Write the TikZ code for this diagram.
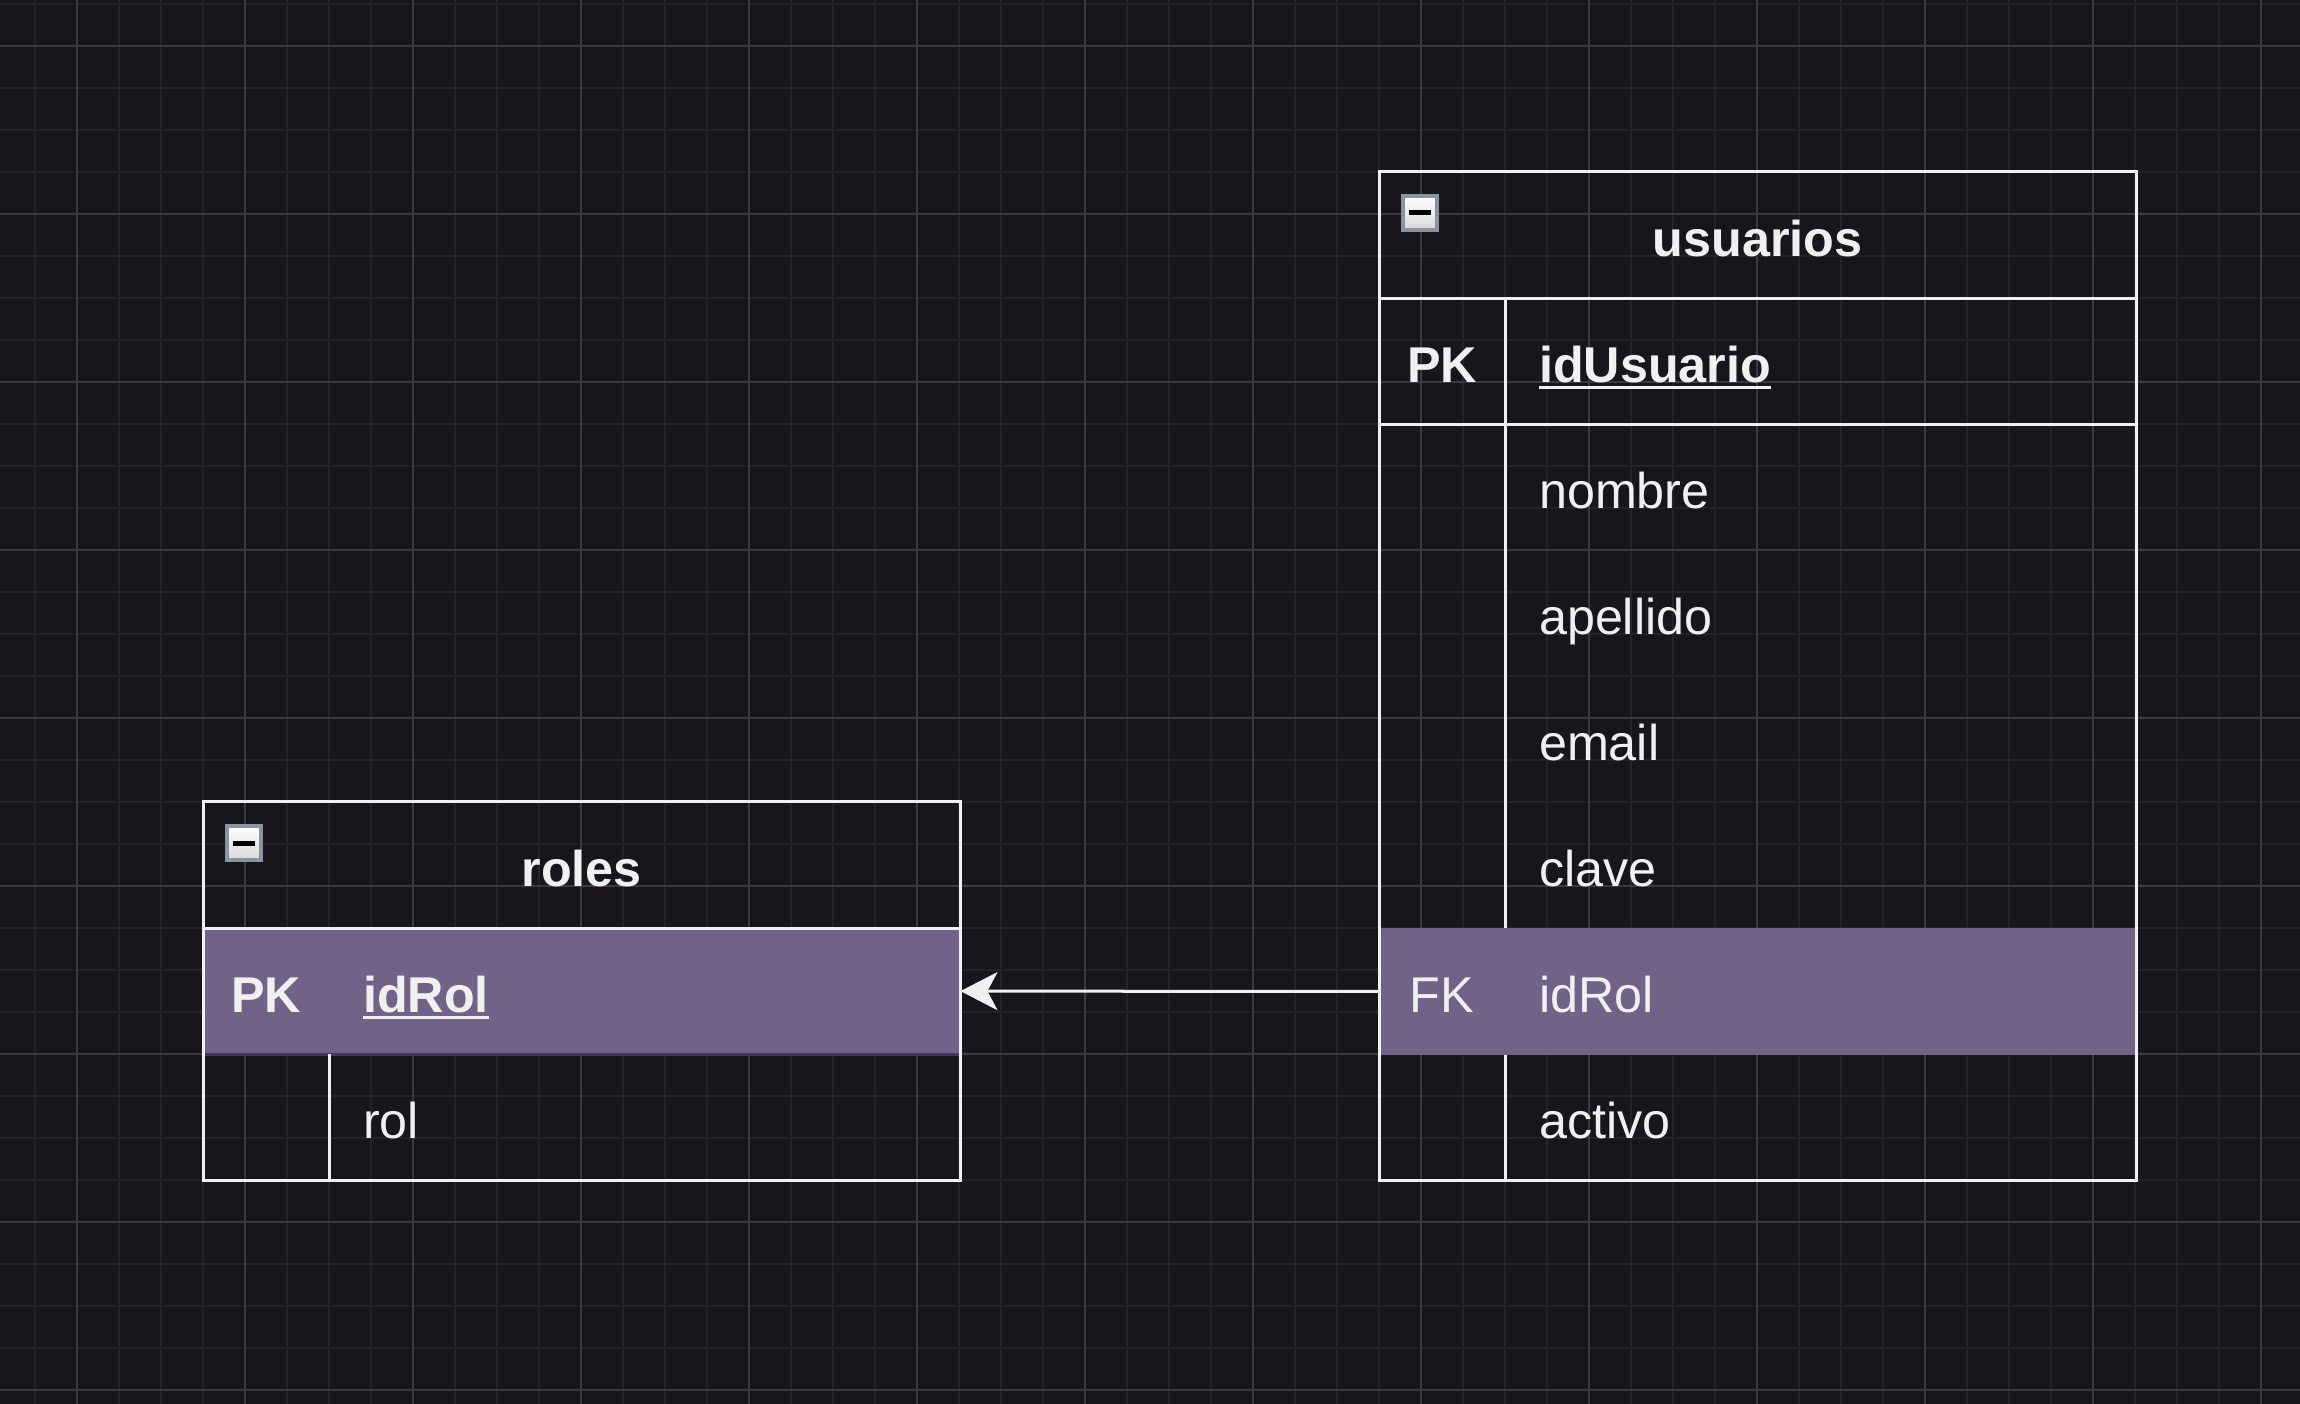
\documentclass[tikz,border=0pt]{standalone}
\usepackage{fontspec}
\setmainfont{Liberation Sans}
\usetikzlibrary{positioning, arrows.meta}
\definecolor{canvas}{HTML}{18161C}
\definecolor{gridfine}{HTML}{25232A}
\definecolor{gridbold}{HTML}{3B3A40}
\definecolor{ink}{HTML}{F0F0F0}
\definecolor{rowpurple}{HTML}{726288}
\definecolor{rowedge}{HTML}{45365A}
\definecolor{togglegray}{HTML}{8B93A3}
\newcommand{\keyname}[1]{\setbox0\hbox{\textbf{#1}}\rlap{\rule[-0.07cm]{\wd0}{0.03cm}}\box0}
\tikzset{
    x=0.01cm, y=-0.01cm, % one unit = one pixel of the screenshot, y going down
    every node/.style={text=ink, font=\fontsize{14.3}{17}\selectfont},
    cell/.style={inner sep=0pt, outer sep=0pt, minimum height=1.26cm, text height=0.42cm, text depth=0cm}, % one table row
    headcell/.style={cell, minimum width=7.57cm, font=\fontsize{14.3}{17}\selectfont\bfseries},
    keycell/.style={cell, minimum width=1.26cm}, % PK / FK column
    fieldcell/.style={cell, text width=5.63cm, inner xsep=0.34cm, align=left},
    selected/.style={fill=rowpurple}, % highlighted key row
    tableline/.style={draw=ink, line width=0.03cm},
    gridline/.style={line width=0.018cm},
    toggle/.style={draw=togglegray, line width=0.04cm, top color=white, bottom color=black!15,
        minimum size=0.34cm, inner sep=0pt, text=black},
    fkarrow/.style={draw=ink, line width=0.03cm, -{Stealth[length=0.37cm, width=0.38cm, inset=0.1cm]}},
}

\begin{document}
\begin{tikzpicture}
    \useasboundingbox (0,0) rectangle (2300,1404);
    \fill[canvas] (0,0) rectangle (2300,1404);

    % grid
    \foreach \gx in {35,77,...,2300} \draw[gridline, gridfine] (\gx,0) -- (\gx,1404);
    \foreach \gy in {4,46,...,1404} \draw[gridline, gridfine] (0,\gy) -- (2300,\gy);
    \foreach \gx in {77,245,...,2300} \draw[gridline, gridbold] (\gx,0) -- (\gx,1404);
    \foreach \gy in {46,214,...,1404} \draw[gridline, gridbold] (0,\gy) -- (2300,\gy);

    % roles
    \node[headcell, anchor=north west] (rHead) at (203,802) {roles};
    \node[keycell, selected, anchor=north west] (rIdRolK) at (rHead.south west) {\textbf{PK}};
    \node[fieldcell, selected, right=0pt of rIdRolK] (rIdRolF) {\keyname{idRol}};
    \node[keycell, below=0pt of rIdRolK] (rRolK) {};
    \node[fieldcell, right=0pt of rRolK] (rRolF) {rol};

    % usuarios
    \node[headcell, anchor=north west] (uHead) at (1379,172) {usuarios};
    \node[keycell, anchor=north west] (uIdK) at (uHead.south west) {\textbf{PK}};
    \node[fieldcell, right=0pt of uIdK] (uIdF) {\keyname{idUsuario}};
    \node[keycell, below=0pt of uIdK] (uNombreK) {};
    \node[fieldcell, right=0pt of uNombreK] (uNombreF) {nombre};
    \node[keycell, below=0pt of uNombreK] (uApellidoK) {};
    \node[fieldcell, right=0pt of uApellidoK] (uApellidoF) {apellido};
    \node[keycell, below=0pt of uApellidoK] (uEmailK) {};
    \node[fieldcell, right=0pt of uEmailK] (uEmailF) {email};
    \node[keycell, below=0pt of uEmailK] (uClaveK) {};
    \node[fieldcell, right=0pt of uClaveK] (uClaveF) {clave};
    \node[keycell, selected, below=0pt of uClaveK] (uIdRolK) {FK};
    \node[fieldcell, selected, right=0pt of uIdRolK] (uIdRolF) {idRol};
    \node[keycell, below=0pt of uIdRolK] (uActivoK) {};
    \node[fieldcell, right=0pt of uActivoK] (uActivoF) {activo};

    % table lines
    \draw[tableline] (rHead.south west) -- (rHead.south east);
    \draw[rowedge, line width=0.03cm] (rIdRolK.south west) -- (rIdRolF.south east);
    \draw[tableline] (rRolK.north east) -- (rRolK.south east);
    \draw[tableline] (rHead.north west) rectangle (rRolF.south east);

    \draw[tableline] (uHead.south west) -- (uHead.south east);
    \draw[tableline] (uIdK.south west) -- (uIdF.south east);
    \draw[tableline] (uIdK.north east) -- (uClaveK.south east);
    \draw[tableline] (uActivoK.north east) -- (uActivoK.south east);
    \draw[tableline] (uHead.north west) rectangle (uActivoF.south east);

    % collapse buttons
    \node[toggle, anchor=north west] (rToggle) at ([shift={(22,22)}]rHead.north west) {\rule{0.22cm}{0.05cm}};
    \node[toggle, anchor=north west] (uToggle) at ([shift={(22,22)}]uHead.north west) {\rule{0.22cm}{0.05cm}};

    % foreign key
    \draw[fkarrow] (uIdRolK.west) -- (rIdRolF.east);
\end{tikzpicture}
\end{document}
